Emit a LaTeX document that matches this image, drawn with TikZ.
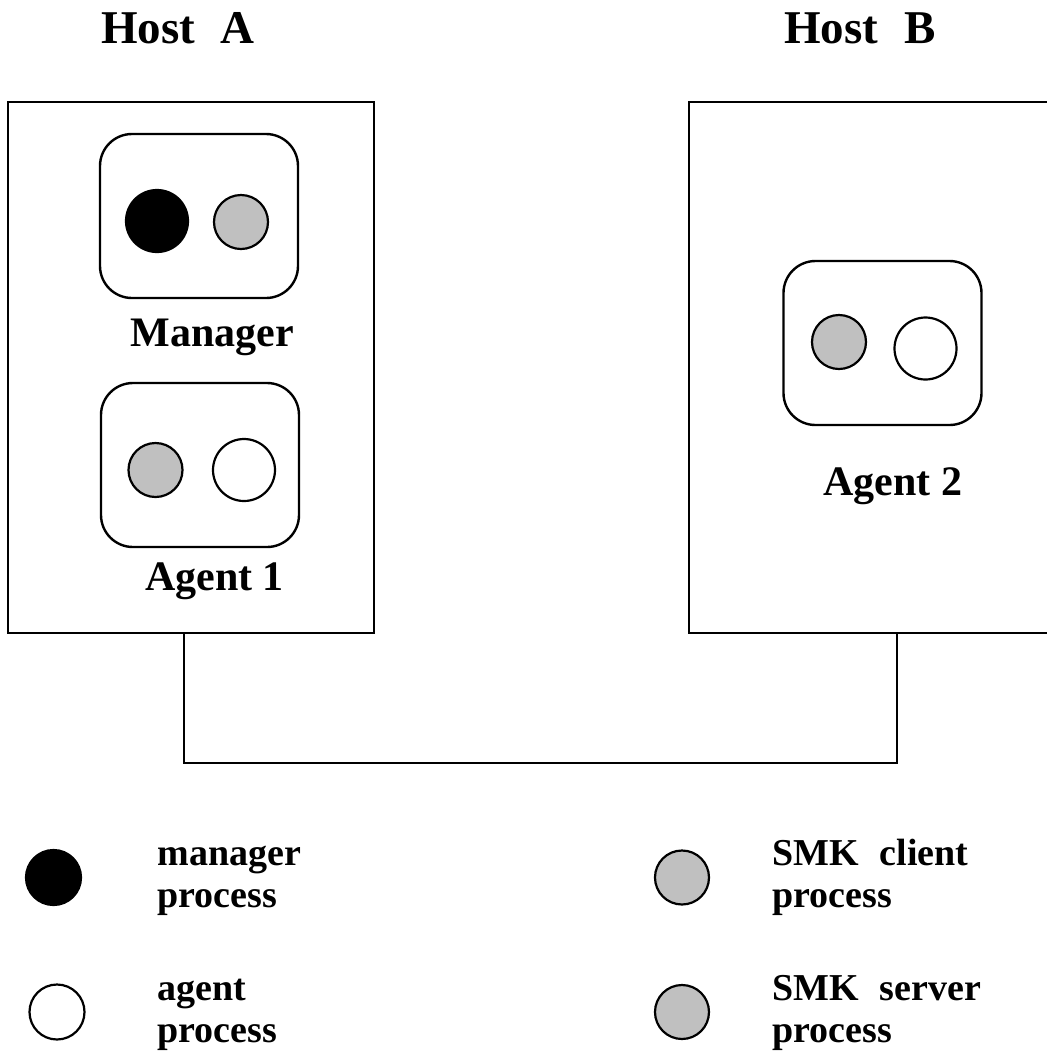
\documentclass[tikz,border=0pt]{standalone}
\usepackage{fontspec}
\setmainfont{Liberation Serif}
\usepackage{tikz}
\usetikzlibrary{positioning, calc}
\definecolor{smkgray}{RGB}{192,192,192}
\tikzset{
    hostbox/.style={rectangle, draw=black, line width=1.4pt, inner sep=0pt, outer sep=0pt, minimum width=183pt, minimum height=265.5pt},
    procbox/.style={rectangle, draw=black, line width=1.2pt, rounded corners=16pt, inner sep=0pt, outer sep=0pt, minimum width=99pt, minimum height=82pt},
    procdot/.style={circle, draw=black, fill=#1, line width=1.1pt, inner sep=0pt, minimum size=31pt},
    smkdot/.style={circle, draw=black, fill=smkgray, line width=1.1pt, inner sep=0pt, minimum size=27pt},
    hosttitle/.style={anchor=base, inner sep=0pt, font=\fontsize{23.5}{26}\selectfont\bfseries},
    proctitle/.style={anchor=base, inner sep=0pt, font=\fontsize{21}{24}\selectfont\bfseries},
    legendtext/.style={anchor=base west, inner sep=0pt, align=left, font=\fontsize{19}{20.75}\selectfont\bfseries},
    wire/.style={draw=black, line width=1.4pt}
}

\begin{document}
\begin{tikzpicture}[x=0.5pt, y=-0.5pt]
\useasboundingbox (0,0) rectangle (1047,1057);

% hosts
\node[hosttitle] (titleA) at (178,43) {Host\hspace{0.55em}A};
\node[hosttitle] (titleB) at (860,43) {Host\hspace{0.55em}B};
\node[hostbox] (hostA) at (191,367.5) {};
\node[hostbox] (hostB) at (872,367.5) {};

% processes on host A
\node[procbox] (mgr) at (199,216) {};
\node[procdot=black] (mgrproc) at (157,221) {};
\node[smkdot] (mgrsmk) at (241,222) {};
\node[proctitle] (mgrlabel) at (212,346) {Manager};

\node[procbox] (agone) at (200,465) {};
\node[smkdot] (agonesmk) at (155.5,470) {};
\node[procdot=white] (agoneproc) at (244,470) {};
\node[proctitle] (agonelabel) at (214.5,590) {Agent 1};

% processes on host B
\node[procbox] (agtwo) at (882.5,343) {};
\node[smkdot] (agtwosmk) at (839,342) {};
\node[procdot=white] (agtwoproc) at (925.5,348.5) {};
\node[proctitle] (agtwolabel) at (893,495) {Agent 2};

% network
\coordinate (busA) at (184,763);
\coordinate (busB) at (897,763);
\draw[wire] (busA |- hostA.south) -- (busA) -- (busB) -- (busB |- hostB.south);

% legend
\node[procdot=black, minimum size=27.5pt] (keymgr) at (53.5,877.5) {};
\node[procdot=white, minimum size=27.5pt] (keyagent) at (57,1012) {};
\node[smkdot] (keyclient) at (682,877.5) {};
\node[smkdot] (keyserver) at (682,1012) {};
\node[legendtext] (keymgrtext) at (157,907) {manager\\process};
\node[legendtext] (keyagenttext) at (157,1042) {agent\\process};
\node[legendtext] (keyclienttext) at (772,907) {SMK\hspace{0.55em}client\\process};
\node[legendtext] (keyservertext) at (772,1042) {SMK\hspace{0.55em}server\\process};

\end{tikzpicture}
\end{document}
